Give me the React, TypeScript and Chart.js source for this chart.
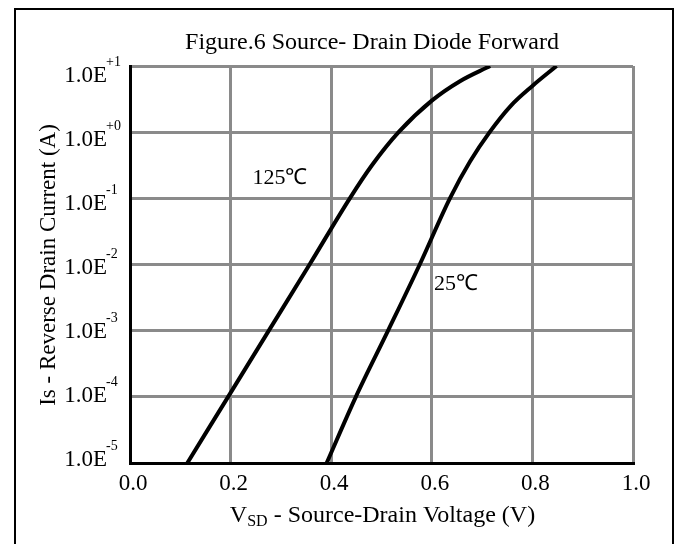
import React, { useEffect, useRef } from "react";
import { Chart, registerables } from "chart.js";

Chart.register(...registerables);

const chartTitle = "Figure.6 Source- Drain Diode Forward";
const xAxisMain = "V";
const xAxisSub = "SD";
const xAxisRest = " - Source-Drain Voltage (V)";
const yAxisTitle = "Is - Reverse Drain Current (A)";

// 125 °C curve
const vsd125 = [0.114, 0.195, 0.276, 0.357, 0.437, 0.481, 0.534, 0.6, 0.656, 0.716];
const is125 = [1e-5, 1e-4, 1e-3, 1e-2, 0.1, 0.316, 1, 3.0, 5.9, 10];
// 25 °C curve
const vsd25 = [0.391, 0.449, 0.513, 0.576, 0.636, 0.676, 0.715, 0.757, 0.8, 0.848];
const is25 = [1e-5, 1e-4, 1e-3, 1e-2, 0.1, 0.36, 1, 2.5, 5.0, 10];

const xTickValues = [0, 0.2, 0.4, 0.6, 0.8, 1.0];
const xTickLabels = ["0.0", "0.2", "0.4", "0.6", "0.8", "1.0"];
const yTickValues = [10, 1, 0.1, 0.01, 0.001, 0.0001, 0.00001];
const yTickBase = "1.0E";
const yTickExp = ["+1", "+0", "-1", "-2", "-3", "-4", "-5"];

const curveLabels = ["125\u2103", "25\u2103"];
const curveLabelX = [0.298, 0.648];
const curveLabelY = [0.2, 0.005];

const SERIF = '"Liberation Serif", "Times New Roman", serif';

const decorPlugin = {
  id: "decor",
  afterDraw(chart: any) {
    const { ctx, chartArea, scales } = chart;
    const xs = scales.x;
    const ys = scales.y;
    ctx.save();
    ctx.fillStyle = "#000";
    ctx.strokeStyle = "#000";

    // outer frame
    ctx.lineWidth = 2;
    ctx.strokeRect(15, 9, 658, 545);

    // title
    ctx.font = `24px ${SERIF}`;
    ctx.textAlign = "center";
    ctx.textBaseline = "alphabetic";
    ctx.fillText(chartTitle, 372, 49);

    // x tick labels
    ctx.font = `23px ${SERIF}`;
    xTickValues.forEach((v, i) => {
      ctx.fillText(xTickLabels[i], xs.getPixelForValue(v) + 3, chartArea.bottom + 27);
    });

    // y tick labels with superscript exponents
    yTickValues.forEach((v, i) => {
      const py = ys.getPixelForValue(v);
      const ly = chartArea.top + 10 + (py - chartArea.top) * 0.967;
      ctx.font = `23px ${SERIF}`;
      ctx.textAlign = "right";
      ctx.textBaseline = "middle";
      ctx.fillText(yTickBase, 107, ly);
      ctx.font = `14px ${SERIF}`;
      ctx.textAlign = "left";
      ctx.fillText(yTickExp[i], 106, ly - 14);
    });

    // x axis title with subscript
    ctx.textBaseline = "alphabetic";
    ctx.textAlign = "left";
    ctx.font = `24px ${SERIF}`;
    const wMain = ctx.measureText(xAxisMain).width;
    const wRest = ctx.measureText(xAxisRest).width;
    ctx.font = `16px ${SERIF}`;
    const wSub = ctx.measureText(xAxisSub).width;
    const total = wMain + wSub + wRest;
    const cx = (chartArea.left + chartArea.right) / 2 + 1;
    let sx = cx - total / 2;
    const by = 522;
    ctx.font = `24px ${SERIF}`;
    ctx.fillText(xAxisMain, sx, by);
    sx += wMain;
    ctx.font = `16px ${SERIF}`;
    ctx.fillText(xAxisSub, sx, by + 4);
    sx += wSub;
    ctx.font = `24px ${SERIF}`;
    ctx.fillText(xAxisRest, sx, by);

    // y axis title
    ctx.save();
    ctx.translate(55, 265);
    ctx.rotate(-Math.PI / 2);
    ctx.textAlign = "center";
    ctx.textBaseline = "alphabetic";
    ctx.font = `23px ${SERIF}`;
    ctx.fillText(yAxisTitle, 0, 0);
    ctx.restore();

    // curve labels
    ctx.font = `22px ${SERIF}`;
    ctx.textAlign = "center";
    ctx.textBaseline = "middle";
    curveLabels.forEach((t, i) => {
      ctx.fillText(t, xs.getPixelForValue(curveLabelX[i]), ys.getPixelForValue(curveLabelY[i]));
    });

    ctx.restore();
  },
};

export default function App() {
  const ref = useRef<HTMLCanvasElement | null>(null);

  useEffect(() => {
    if (!ref.current) return;
    const chart = new Chart(ref.current, {
      type: "line",
      data: {
        datasets: [
          {
            label: curveLabels[0],
            data: vsd125.map((x, i) => ({ x, y: is125[i] })),
            borderColor: "#000",
            borderWidth: 4,
            pointRadius: 0,
            fill: false,
            cubicInterpolationMode: "monotone",
          },
          {
            label: curveLabels[1],
            data: vsd25.map((x, i) => ({ x, y: is25[i] })),
            borderColor: "#000",
            borderWidth: 4,
            pointRadius: 0,
            fill: false,
            cubicInterpolationMode: "monotone",
          },
        ],
      },
      options: {
        responsive: false,
        animation: false,
        devicePixelRatio: 1,
        layout: { padding: { left: 130, top: 66, right: 45, bottom: 81 } },
        plugins: {
          legend: { display: false },
          title: { display: false },
          tooltip: { enabled: false },
        },
        scales: {
          x: {
            type: "linear",
            min: 0,
            max: 1,
            ticks: { display: false, stepSize: 0.2 },
            afterBuildTicks: (s: any) => {
              s.ticks = xTickValues.map((v) => ({ value: v }));
            },
            grid: { color: "#8a8a8a", lineWidth: 3, drawTicks: false },
            border: { color: "#000", width: 3 },
          },
          y: {
            type: "logarithmic",
            min: 1e-5,
            max: 10,
            ticks: { display: false },
            afterBuildTicks: (s: any) => {
              s.ticks = yTickValues.map((v) => ({ value: v }));
            },
            grid: { color: "#8a8a8a", lineWidth: 3, drawTicks: false },
            border: { color: "#000", width: 3 },
          },
        },
      },
      plugins: [decorPlugin],
    } as any);
    return () => chart.destroy();
  }, []);

  return (
    <div style={{ position: "fixed", left: 0, top: 0, width: 678, height: 544, background: "#fff" }}>
      <canvas ref={ref} width={678} height={544} style={{ display: "block" }} />
    </div>
  );
}
